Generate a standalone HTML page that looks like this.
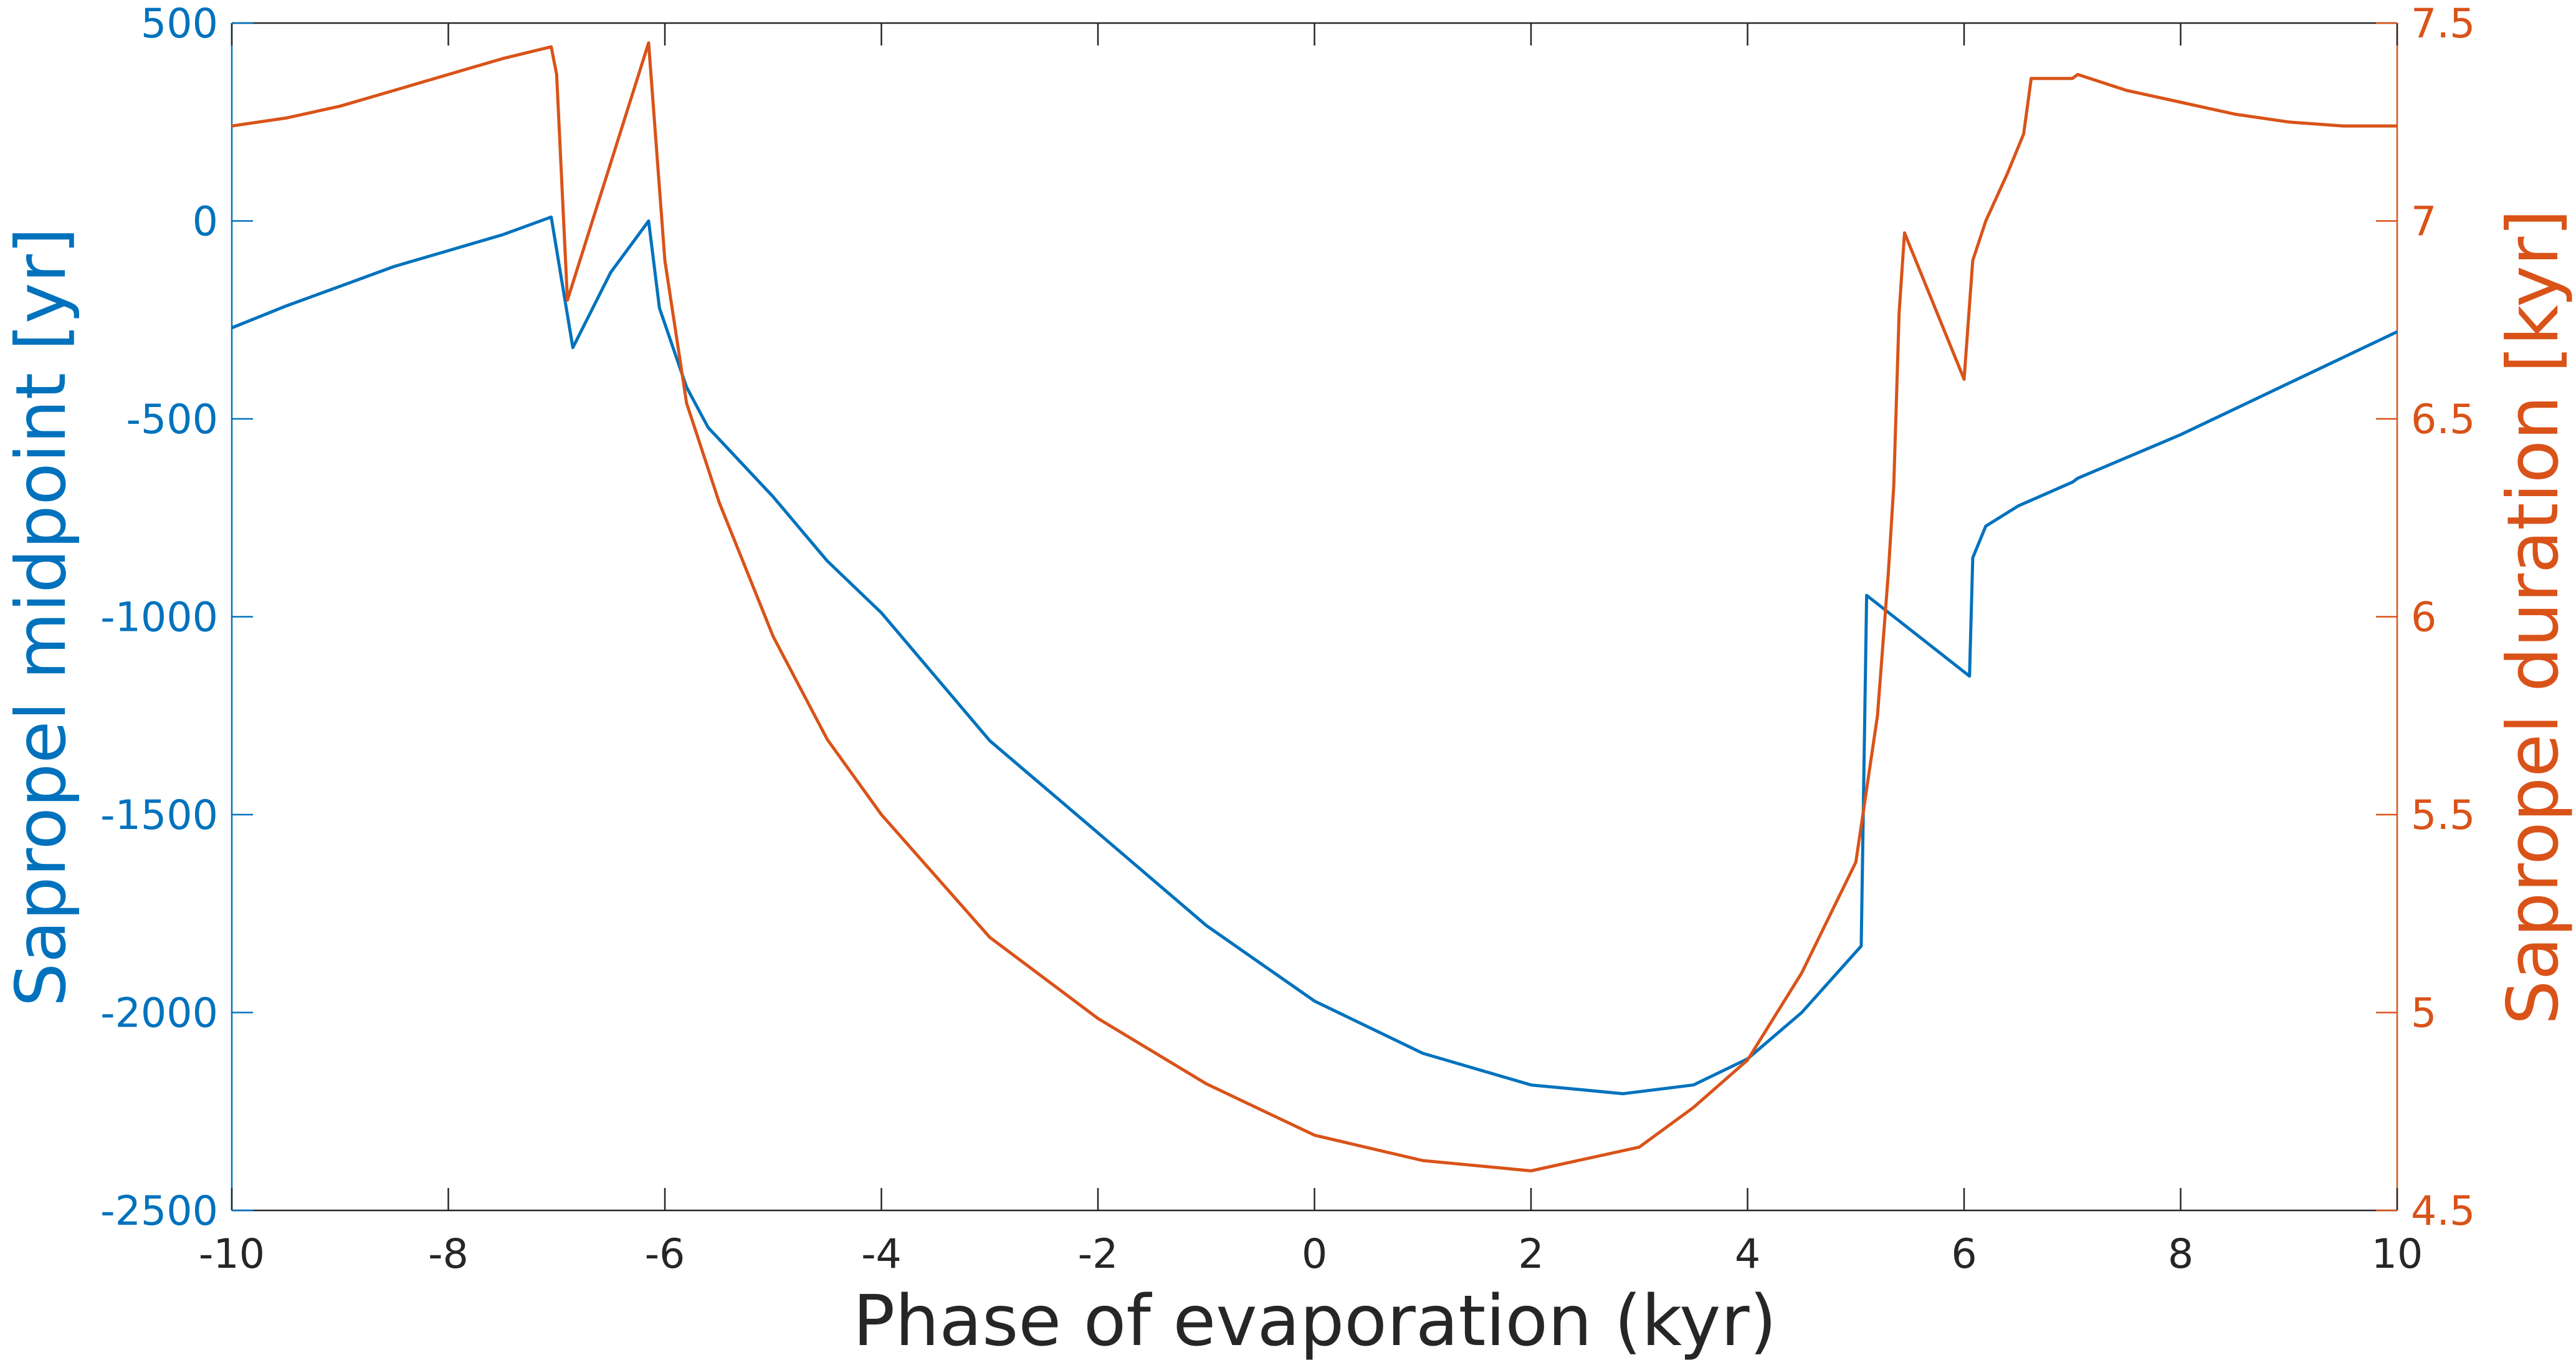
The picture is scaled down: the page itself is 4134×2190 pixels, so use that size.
<!DOCTYPE html>
<html><head><meta charset="utf-8"><style>
html,body{margin:0;padding:0;background:#fff;}
svg{display:block;font-family:"DejaVu Sans","Liberation Sans",sans-serif;}
</style></head><body>
<svg id="chart" width="4134" height="2190" viewBox="0 0 4134 2190" xmlns="http://www.w3.org/2000/svg">
<rect width="4134" height="2190" fill="#fff"/>
<g id="axes"></g>
<g id="series"></g>
<text x="2110" y="2158" font-size="112" fill="#262626" text-anchor="middle">Phase of evaporation (kyr)</text>
<text transform="translate(104,990) rotate(-90)" font-size="111" fill="#0072BD" text-anchor="middle">Sapropel midpoint [yr]</text>
<text transform="translate(4104,990) rotate(-90)" font-size="113" fill="#D95319" text-anchor="middle">Sapropel duration [kyr]</text>
</svg>
<script>
const xTicks = [-10,-8,-6,-4,-2,0,2,4,6,8,10];
const leftTicks = [500,0,-500,-1000,-1500,-2000,-2500];
const rightTicks = [7.5,7,6.5,6,5.5,5,4.5];
const phaseBlue = [-10,-9.5,-9,-8.5,-8,-7.5,-7.05,-6.85,-6.5,-6.15,-6.05,-5.8,-5.6,-5,-4.5,-4,-3,-2,-1,0,1,2,2.85,3.5,4,4.5,5.05,5.1,6.05,6.08,6.2,6.5,7,7.05,8,9,10];
const midpoint = [-270,-215,-165,-115,-75,-35,10,-320,-130,0,-220,-420,-522,-697,-859,-990,-1313,-1546,-1780,-1971,-2103,-2183,-2205,-2183,-2117,-2000,-1832,-946,-1150,-851,-771,-720,-660,-650,-540,-410,-280];
const phaseOrange = [-10,-9.5,-9,-8.5,-8,-7.5,-7.05,-7.0,-6.9,-6.15,-6.0,-5.8,-5.5,-5,-4.5,-4,-3,-2,-1,0,1,2,3,3.5,4,4.5,5,5.2,5.3,5.35,5.4,5.45,6.0,6.08,6.2,6.4,6.55,6.62,7.0,7.05,7.5,8,8.5,9,9.5,10];
const duration = [7.24,7.26,7.29,7.33,7.37,7.41,7.44,7.37,6.8,7.45,6.9,6.54,6.29,5.95,5.69,5.5,5.19,4.985,4.82,4.69,4.626,4.6,4.66,4.76,4.88,5.1,5.38,5.75,6.11,6.33,6.77,6.97,6.6,6.9,7.0,7.12,7.22,7.36,7.36,7.37,7.33,7.3,7.27,7.25,7.24,7.24];

const L=372,R=3847,T=37,B=1942;
const sx=v=>L+(v+10)/20*(R-L);
const syL=v=>B-(v+2500)/3000*(B-T);
const syR=v=>B-(v-4.5)/3*(B-T);
const NS='http://www.w3.org/2000/svg';
const axes=document.getElementById('axes'), series=document.getElementById('series');
function mk(tag,attrs,parent){const e=document.createElementNS(NS,tag);for(const k in attrs)e.setAttribute(k,attrs[k]);parent.appendChild(e);return e;}

let e;
e=mk('line',{x1:L,y1:T,x2:R,y2:T,stroke:'#262626','stroke-width':2.5},axes);


e=mk('line',{x1:L,y1:B,x2:R,y2:B,stroke:'#262626','stroke-width':2.5},axes);


e=mk('line',{x1:L,y1:T,x2:L,y2:B,stroke:'#0072BD','stroke-width':2.5},axes);


e=mk('line',{x1:R,y1:T,x2:R,y2:B,stroke:'#D95319','stroke-width':2.5},axes);



xTicks.forEach(v=>{
  const x=sx(v);
  mk('line',{x1:x,y1:B,x2:x,y2:B-36,stroke:'#262626','stroke-width':2.5},axes);
  mk('line',{x1:x,y1:T,x2:x,y2:T+36,stroke:'#262626','stroke-width':2.5},axes);
  const t=mk('text',{x:x,y:B+92,'font-size':65,fill:'#262626','text-anchor':'middle'},axes);
  t.textContent=v;
  
  
});
leftTicks.forEach(v=>{
  const y=syL(v);
  mk('line',{x1:L,y1:y,x2:L+34,y2:y,stroke:'#0072BD','stroke-width':2.5},axes);
  const t=mk('text',{x:L-22,y:y+23,'font-size':65,fill:'#0072BD','text-anchor':'end'},axes);
  t.textContent=v;
  
  
});
rightTicks.forEach(v=>{
  const y=syR(v);
  mk('line',{x1:R,y1:y,x2:R-34,y2:y,stroke:'#D95319','stroke-width':2.5},axes);
  const t=mk('text',{x:R+22,y:y+23,'font-size':65,fill:'#D95319','text-anchor':'start'},axes);
  t.textContent=(v%1===0)?String(v):v.toFixed(1);
  
  
});

const pb=phaseBlue.map((x,i)=>sx(x).toFixed(1)+','+syL(midpoint[i]).toFixed(1)).join(' ');
e=mk('polyline',{points:pb,fill:'none',stroke:'#0072BD','stroke-width':5,'stroke-linejoin':'round'},series);


const po=phaseOrange.map((x,i)=>sx(x).toFixed(1)+','+syR(duration[i]).toFixed(1)).join(' ');
e=mk('polyline',{points:po,fill:'none',stroke:'#D95319','stroke-width':5,'stroke-linejoin':'round'},series);


</script>
</body></html>
